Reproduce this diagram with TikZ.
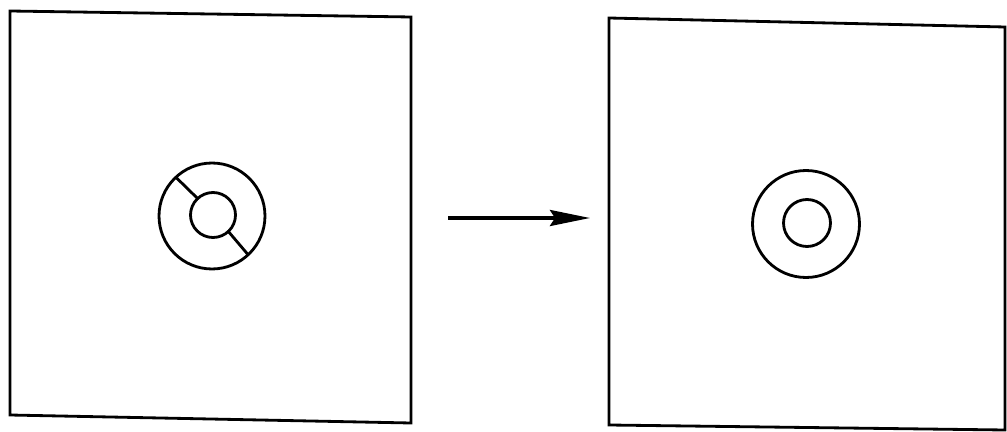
\documentclass[tikz,border=0pt]{standalone}
\usepackage{tikz}
\usetikzlibrary{arrows.meta}

\begin{document}
\begin{tikzpicture}[x=0.02cm, y=-0.02cm, >=Stealth, line width=1.6pt,
  ring/.style={draw, circle, inner sep=0pt, outer sep=0pt}]
  \useasboundingbox (0,0) rectangle (1007,432);
  % the two frames
  \draw (10,11) -- (411,17) -- (411,423) -- (10,415) -- cycle;
  \draw (609,18) -- (1005,27) -- (1005,430) -- (609,425) -- cycle;
  % split ring
  \node[ring, minimum size=2.12cm] (outL) at (212,216) {};
  \node[ring, minimum size=0.9cm] (inL) at (213,215) {};
  \draw (outL.133) -- (inL.133);
  \draw (inL.-47) -- (outL.-47);
  % whole ring
  \node[ring, minimum size=2.14cm] (outR) at (806,224) {};
  \node[ring, minimum size=0.94cm] (inR) at (807,223) {};
  % arrow
  \coordinate (from) at (448,218);
  \coordinate (to) at (590,218);
  \draw[->, line width=2pt, -{Stealth[length=8mm, width=3.2mm, inset=1mm]}] (from) -- (to);
\end{tikzpicture}
\end{document}
